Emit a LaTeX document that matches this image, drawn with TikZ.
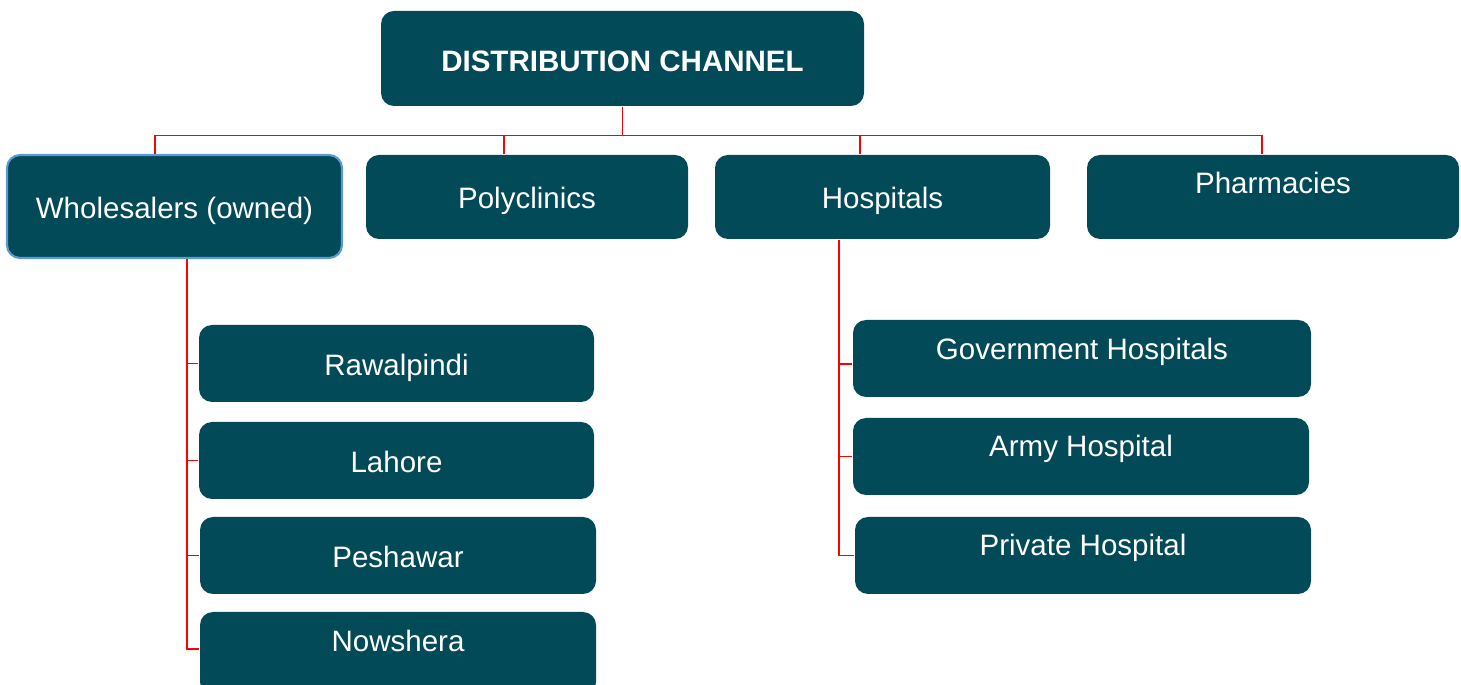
\documentclass[tikz,border=0pt]{standalone}
\usepackage{fontspec}
\setmainfont{Liberation Sans}
\usepackage{tikz}
\definecolor{boxteal}{RGB}{3,74,89}
\definecolor{edgeblue}{RGB}{91,155,213}

\begin{document}
\begin{tikzpicture}[
    box/.style={draw=none, fill=boxteal, text=white, rounded corners=0.13cm, inner ysep=0pt,
      font=\fontsize{8.4}{10}\selectfont, text height=0.30cm, text depth=0.06cm},
    raised/.style={text depth=0.06cm+2*#1},
    link/.style={draw=red, line width=0.4pt}]
    \useasboundingbox (0,0) rectangle (14.61,-6.85);

    % Nodes
    \node[box, text height=0.33cm, minimum width=4.83cm, minimum height=0.95cm, font=\fontsize{8.4}{10}\selectfont\bfseries] (DC) at (6.225,-0.585) {DISTRIBUTION CHANNEL};

    \node[box, draw=edgeblue, line width=0.6pt, minimum width=3.35cm, minimum height=1.03cm] (WS) at (1.745,-2.065) {Wholesalers (owned)};
    \node[box, minimum width=3.22cm, minimum height=0.84cm] (PC) at (5.27,-1.97) {Polyclinics};
    \node[box, minimum width=3.35cm, minimum height=0.84cm] (HS) at (8.825,-1.97) {Hospitals};
    \node[box, raised=0.15cm, minimum width=3.72cm, minimum height=0.84cm] (PH) at (12.73,-1.97) {Pharmacies};

    \node[box, minimum width=3.95cm, minimum height=0.77cm] (W1) at (3.965,-3.635) {Rawalpindi};
    \node[box, minimum width=3.95cm, minimum height=0.77cm] (W2) at (3.965,-4.605) {Lahore};
    \node[box, minimum width=3.96cm, minimum height=0.77cm] (W3) at (3.98,-5.555) {Peshawar};
    \node[box, raised=0.145cm, minimum width=3.96cm, minimum height=0.83cm] (W4) at (3.98,-6.535) {Nowshera};

    \node[box, raised=0.105cm, minimum width=4.58cm, minimum height=0.77cm] (H1) at (10.82,-3.585) {Government Hospitals};
    \node[box, raised=0.115cm, minimum width=4.56cm, minimum height=0.77cm] (H2) at (10.81,-4.565) {Army Hospital};
    \node[box, raised=0.115cm, minimum width=4.56cm, minimum height=0.77cm] (H3) at (10.83,-5.555) {Private Hospital};

    % Connectors
    \draw[link] (DC.south) -- ++(0,-0.29) coordinate (bus);
    \draw[link] (bus) -| ([xshift=-0.195cm]WS.north);
    \draw[link] (bus) -| ([xshift=-0.23cm]PC.north);
    \draw[link] (bus) -| ([xshift=-0.225cm]HS.north);
    \draw[link] (bus) -| ([xshift=-0.11cm]PH.north);

    \draw[link] ([xshift=0.125cm]WS.south) |- (W1.west);
    \draw[link] ([xshift=0.125cm]WS.south) |- (W2.west);
    \draw[link] ([xshift=0.125cm]WS.south) |- (W3.west);
    \draw[link] ([xshift=0.125cm]WS.south) |- ([yshift=0.045cm]W4.west);

    \draw[link] ([xshift=-0.435cm]HS.south) |- ([yshift=-0.055cm]H1.west);
    \draw[link] ([xshift=-0.435cm]HS.south) |- (H2.west);
    \draw[link] ([xshift=-0.435cm]HS.south) |- (H3.west);
  \end{tikzpicture}
\end{document}
